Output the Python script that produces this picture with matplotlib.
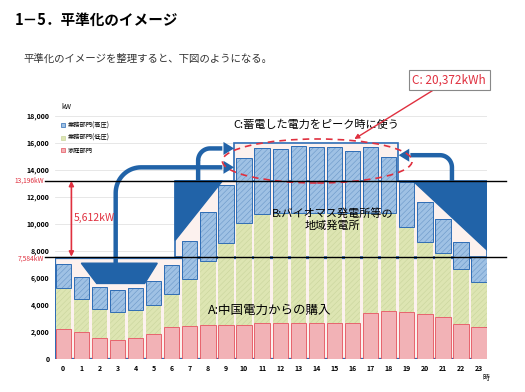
import numpy as np
import matplotlib
matplotlib.use('Agg')
import matplotlib.pyplot as plt
from matplotlib.patches import Rectangle, Polygon, Ellipse, Patch

plt.rcParams['font.family'] = ['Noto Sans CJK JP', 'DejaVu Sans']
plt.rcParams['hatch.linewidth'] = 0.4

# データ (kW)
hours = list(range(24))
katei = [2250, 2000, 1550, 1420, 1550, 1850, 2370, 2440, 2520, 2520, 2500, 2670,
         2700, 2670, 2670, 2680, 2700, 3410, 3560, 3480, 3330, 3110, 2590, 2370]
teiatsu = [3050, 2440, 2150, 2060, 2080, 2150, 2440, 3490, 4740, 6040, 7570, 8070,
           8100, 8130, 8130, 8120, 8100, 7390, 7240, 6300, 5370, 4740, 4110, 3330]
kouatsu = [1750, 1660, 1630, 1630, 1630, 1780, 2150, 2810, 3640, 4330, 4820, 4890,
           4760, 4980, 4900, 4900, 4610, 4900, 4200, 3370, 2930, 2520, 2000, 1860]
yticks = list(range(0, 18001, 2000))
line_hi = 13196
line_lo = 7584
labels = ['業務部門(高圧)', '業務部門(低圧)', '家庭部門']

blue_fill = '#9fc1e4'
blue_hatch = '#6a97c8'
blue_edge = '#2f6db5'
green_fill = '#dde5b2'
green_hatch = '#c9d59c'
red_fill = '#f2b2b6'
red_edge = '#e5525c'
dblue = '#2163a8'
red = '#e0303f'
pale = '#fcf1ee'

fig = plt.figure(figsize=(5.25, 3.92), dpi=100)
fig.patch.set_facecolor('white')

fig.text(0.029, 0.949, '1－5．平準化のイメージ', fontsize=10.5, fontweight='bold', va='center')
fig.text(0.044, 0.849, '平準化のイメージを整理すると、下図のようになる。', fontsize=7.5, va='center', color='#333333')

ax = fig.add_axes([0.105, 0.084, 0.823, 0.62])
ax.set_xlim(-0.45, 23.45)
ax.set_ylim(0, 18000)
for s in ax.spines.values():
    s.set_visible(False)
ax.set_yticks(yticks)
ax.set_yticklabels([f'{v:,}' for v in yticks], fontsize=5, fontweight='bold')
ax.set_xticks(hours)
ax.set_xticklabels([str(h) for h in hours], fontsize=5, fontweight='bold')
ax.tick_params(length=0, pad=4)
ax.yaxis.grid(True, color='#dddddd', lw=0.5)
ax.set_axisbelow(True)

# 背景の枠 (A, B, C)
ax.add_patch(Rectangle((-0.45, 0), 23.9, 7500, fc=pale, ec=blue_edge, lw=1.6, zorder=0.6))
ax.add_patch(Rectangle((6.19, line_lo), 23.45 - 6.19, line_hi - line_lo, fc=pale, ec=blue_edge, lw=1.2, zorder=0.6))
ax.add_patch(Rectangle((9.45, line_hi), 18.5 - 9.45, 16000 - line_hi, fc=pale, ec=blue_edge, lw=1.2, zorder=0.6))

# 積み上げ棒
w = 0.85
katei = np.array(katei)
teiatsu = np.array(teiatsu)
kouatsu = np.array(kouatsu)
ax.bar(hours, katei, w, color=red_fill, edgecolor=red_edge, lw=0.6, zorder=2)
ax.bar(hours, teiatsu, w, bottom=katei, color=green_fill, edgecolor=green_hatch, hatch='//////', lw=0, zorder=2)
ax.bar(hours, kouatsu, w, bottom=katei + teiatsu, color=blue_fill, edgecolor=blue_hatch, hatch='//////', lw=0, zorder=2)
ax.bar(hours, kouatsu, w, bottom=katei + teiatsu, fill=False, edgecolor=blue_edge, lw=0.7, zorder=2.1)

# 凡例
handles = [Patch(fc=blue_fill, ec=blue_edge, lw=0.5),
           Patch(fc=green_fill, ec=green_hatch, lw=0.5),
           Patch(fc=red_fill, ec=red_edge, lw=0.5)]
ax.legend(handles, labels, loc='upper left', bbox_to_anchor=(0.0, 1.0), fontsize=4.5, frameon=False,
          handlelength=0.6, handleheight=0.6, labelspacing=0.7, handletextpad=0.5)

# 三角形・じょうご
ax.add_patch(Polygon([(6.19, line_hi), (8.8, line_hi), (6.19, 8800)], closed=True, fc=dblue, ec=dblue, zorder=5))
ax.add_patch(Polygon([(19.35, line_hi), (23.43, line_hi), (23.43, 8070)], closed=True, fc=dblue, ec=dblue, zorder=5))
ax.add_patch(Polygon([(1.0, 7100), (5.2, 7100), (4.5, 5600), (1.85, 5600)], closed=True, fc=dblue, ec=dblue, zorder=5))


def pipe(x0, y0, yh, x1, rx, ry, direction):
    t = np.linspace(0, np.pi / 2, 20)
    cx = x0 + direction * rx
    cy = yh - ry
    xs = [x0, x0] + list(cx - direction * rx * np.cos(t)) + [x1]
    ys = [y0, cy] + list(cy + ry * np.sin(t)) + [yh]
    ax.plot(xs, ys, color=dblue, lw=3.2, solid_capstyle='butt', solid_joinstyle='round', zorder=6, clip_on=False)


def head(xb, xt, y):
    ax.annotate('', xy=(xt, y), xytext=(xb, y),
                arrowprops=dict(arrowstyle='-|>,head_length=0.9,head_width=0.55', color=dblue, lw=0,
                                mutation_scale=8.5, shrinkA=0, shrinkB=0), zorder=6)


pipe(2.9, 7100, 14200, 8.8, 1.4, 1900, 1)
head(8.7, 9.45, 14200)
pipe(7.46, line_hi, 15600, 8.8, 0.66, 900, 1)
head(8.7, 9.45, 15600)
pipe(21.5, line_hi, 15100, 19.2, 0.66, 900, -1)
head(19.3, 18.55, 15100)

# 基準線
ax.plot([-1.0, 24.5], [line_hi, line_hi], color='black', lw=1.0, zorder=8, clip_on=False)
ax.plot([-1.0, 24.5], [line_lo, line_lo], color='black', lw=1.0, zorder=8, clip_on=False)
ax.text(-1.05, line_hi, f'{line_hi:,}kW', color=red, fontsize=4.8, ha='right', va='center', clip_on=False)
ax.text(-1.05, line_lo - 150, f'{line_lo:,}kW', color=red, fontsize=4.8, ha='right', va='center', clip_on=False)

ax.annotate('', xy=(0.45, line_hi), xytext=(0.45, line_lo),
            arrowprops=dict(arrowstyle='<|-|>', color=red, lw=1.2, mutation_scale=7, shrinkA=0, shrinkB=0), zorder=9)
ax.text(0.6, 10450, f'{line_hi - line_lo:,}kW', color=red, fontsize=7.5, va='center', zorder=9)

# 蓄電の楕円とラベル
ax.add_patch(Ellipse((14.05, 14670), 10.5, 3260, fill=False, ls=(0, (4, 3)), ec=red, lw=1.2, zorder=7))
ax.text(14.0, 17330, 'C:蓄電した電力をピーク時に使う', fontsize=8, ha='center', va='center', zorder=9, clip_on=False)
ax.annotate('C: 20,372kWh', xy=(16.1, 16300), xytext=(21.35, 20650), fontsize=8.5, color=red, ha='center', va='center',
            bbox=dict(boxstyle='square,pad=0.3', fc='white', ec='#888888', lw=0.8),
            arrowprops=dict(arrowstyle='-|>', color=red, lw=1.0, mutation_scale=7, shrinkA=0, shrinkB=0),
            annotation_clip=False, zorder=9)

ax.text(14.9, 10350, 'B:バイオマス発電所等の\n地域発電所', fontsize=8, ha='center', va='center', linespacing=1.2, zorder=9)
ax.text(11.4, 3630, 'A:中国電力からの購入', fontsize=9, ha='center', va='center', zorder=9)

ax.text(-0.1, 18650, 'kW', fontsize=5, ha='left', va='center', clip_on=False)
ax.text(23.4, -1400, '時', fontsize=5, ha='center', va='center', clip_on=False)

fig.savefig('out.png', dpi=100)
